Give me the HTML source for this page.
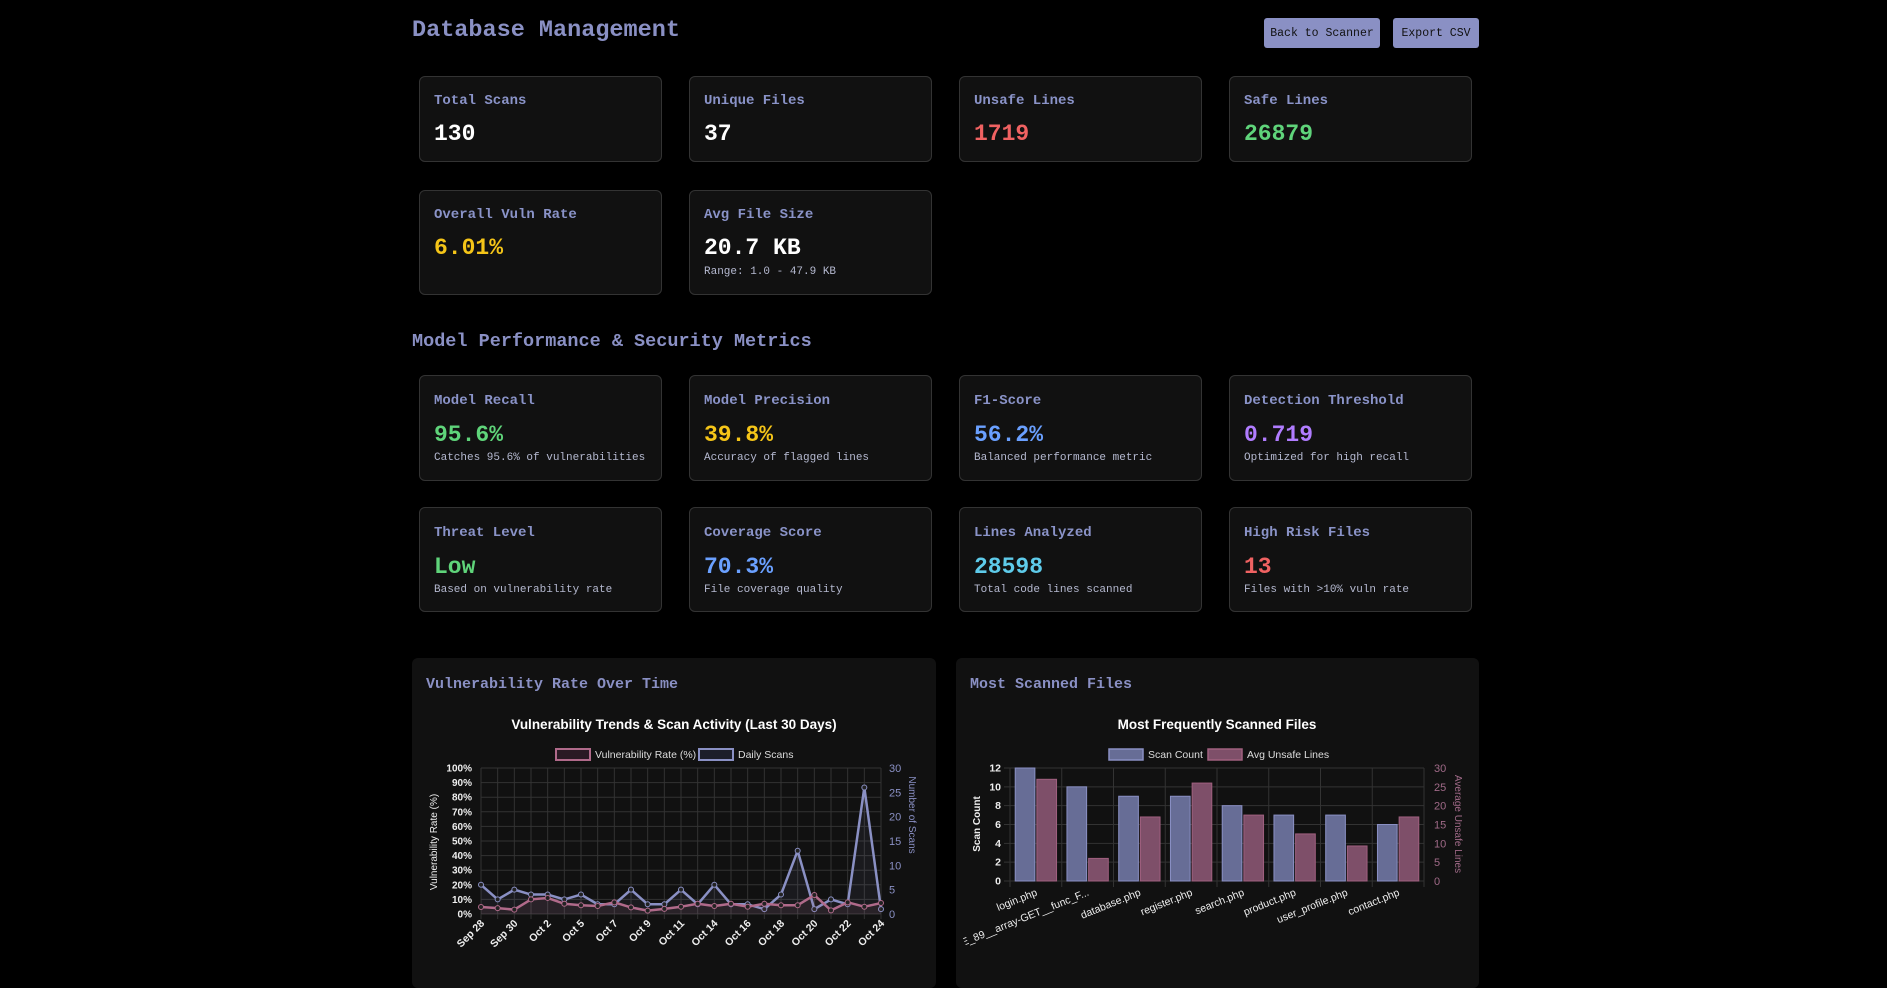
<!DOCTYPE html>
<html><head><meta charset="utf-8">
<style>
*{box-sizing:border-box;margin:0;padding:0}
body{width:1887px;height:970px;background:#000;overflow:hidden;font-family:"Liberation Mono","DejaVu Sans Mono",monospace;position:relative}
.abs{position:absolute}
h1{position:absolute;left:412px;top:17px;font-size:23.5px;font-weight:bold;color:#8a90c4}
.btn{position:absolute;top:18px;height:30px;background:#8a90c4;color:#111;font-size:11.5px;border-radius:3px;display:flex;align-items:center;justify-content:center}
.card{position:absolute;width:243px;background:#111;border:1px solid #333;border-radius:6px;padding:0 14px}
.lbl{position:absolute;left:14px;font-size:14px;font-weight:bold;color:#8a93c8}
.val{position:absolute;left:14px;font-size:23px;font-weight:bold;color:#fff}
.sub{position:absolute;left:14px;font-size:11px;color:#b5b9d0}
h2{position:absolute;left:412px;top:331px;font-size:18.5px;font-weight:bold;color:#8a90c4}
.panel{position:absolute;top:658px;height:330px;background:#111;border-radius:6px}
.ptitle{position:absolute;left:14px;top:18px;font-size:15px;font-weight:bold;color:#8a90c4}
svg text{font-family:"Liberation Sans",sans-serif}
</style></head><body>
<h1>Database Management</h1>
<div class="btn" style="left:1264px;width:116px">Back to Scanner</div>
<div class="btn" style="left:1393px;width:86px">Export CSV</div>

<div class="card" style="left:419px;top:76px;height:86px"><div class="lbl" style="top:16px">Total Scans</div><div class="val" style="top:44px">130</div></div>
<div class="card" style="left:689px;top:76px;height:86px"><div class="lbl" style="top:16px">Unique Files</div><div class="val" style="top:44px">37</div></div>
<div class="card" style="left:959px;top:76px;height:86px"><div class="lbl" style="top:16px">Unsafe Lines</div><div class="val" style="top:44px;color:#f06262">1719</div></div>
<div class="card" style="left:1229px;top:76px;height:86px"><div class="lbl" style="top:16px">Safe Lines</div><div class="val" style="top:44px;color:#5fd47a">26879</div></div>

<div class="card" style="left:419px;top:190px;height:105px"><div class="lbl" style="top:16px">Overall Vuln Rate</div><div class="val" style="top:44px;color:#f5c518">6.01%</div></div>
<div class="card" style="left:689px;top:190px;height:105px"><div class="lbl" style="top:16px">Avg File Size</div><div class="val" style="top:44px">20.7 KB</div><div class="sub" style="top:75px">Range: 1.0 - 47.9 KB</div></div>

<h2>Model Performance &amp; Security Metrics</h2>

<div class="card" style="left:419px;top:375px;height:106px"><div class="lbl" style="top:17px">Model Recall</div><div class="val" style="top:46px;color:#5fd47a">95.6%</div><div class="sub" style="top:76px">Catches 95.6% of vulnerabilities</div></div>
<div class="card" style="left:689px;top:375px;height:106px"><div class="lbl" style="top:17px">Model Precision</div><div class="val" style="top:46px;color:#f5c518">39.8%</div><div class="sub" style="top:76px">Accuracy of flagged lines</div></div>
<div class="card" style="left:959px;top:375px;height:106px"><div class="lbl" style="top:17px">F1-Score</div><div class="val" style="top:46px;color:#6aa0ff">56.2%</div><div class="sub" style="top:76px">Balanced performance metric</div></div>
<div class="card" style="left:1229px;top:375px;height:106px"><div class="lbl" style="top:17px">Detection Threshold</div><div class="val" style="top:46px;color:#b07cff">0.719</div><div class="sub" style="top:76px">Optimized for high recall</div></div>

<div class="card" style="left:419px;top:507px;height:105px"><div class="lbl" style="top:17px">Threat Level</div><div class="val" style="top:46px;color:#5fd47a">Low</div><div class="sub" style="top:76px">Based on vulnerability rate</div></div>
<div class="card" style="left:689px;top:507px;height:105px"><div class="lbl" style="top:17px">Coverage Score</div><div class="val" style="top:46px;color:#6aa0ff">70.3%</div><div class="sub" style="top:76px">File coverage quality</div></div>
<div class="card" style="left:959px;top:507px;height:105px"><div class="lbl" style="top:17px">Lines Analyzed</div><div class="val" style="top:46px;color:#5ecbea">28598</div><div class="sub" style="top:76px">Total code lines scanned</div></div>
<div class="card" style="left:1229px;top:507px;height:105px"><div class="lbl" style="top:17px">High Risk Files</div><div class="val" style="top:46px;color:#f06262">13</div><div class="sub" style="top:76px">Files with &gt;10% vuln rate</div></div>

<div class="panel" style="left:412px;width:524px"><div class="ptitle">Vulnerability Rate Over Time</div></div>
<div class="panel" style="left:956px;width:523px"><div class="ptitle">Most Scanned Files</div></div>

<svg id="c1" class="abs" style="left:0;top:0" width="1887" height="970"></svg>

<script>
// Chart 1 data
const dates=["Sep 28","Sep 29","Sep 30","Oct 1","Oct 2","Oct 3","Oct 5","Oct 6","Oct 7","Oct 8","Oct 9","Oct 10","Oct 11","Oct 13","Oct 14","Oct 15","Oct 16","Oct 17","Oct 18","Oct 19","Oct 20","Oct 21","Oct 22","Oct 23","Oct 24"];
const vulnRate=[4.8,4,3,10,11,7,6,5.5,8,4.5,2.3,3.5,5,7,5.5,7,5,7,6,6,13,2.5,8,5,7.5];
const dailyScans=[6,3,5,4,4,3,4,2,2,5,2,2,5,2,6,2,2,1,4,13,1,3,2,26,1];
const leftTicks=[0,10,20,30,40,50,60,70,80,90,100];
const rightTicks=[0,5,10,15,20,25,30];
// Chart 2 data
const files=["login.php","E_89__array-GET__func_F...","database.php","register.php","search.php","product.php","user_profile.php","contact.php"];
const scanCount=[12,10,9,9,8,7,7,6];
const avgUnsafe=[27,6,17,26,17.5,12.5,9.3,17];
const countTicks=[0,2,4,6,8,10,12];
const unsafeTicks=[0,5,10,15,20,25,30];

const NS="http://www.w3.org/2000/svg";
const svg=document.getElementById('c1');
function mk(tag,attrs,parent,txt){const e=document.createElementNS(NS,tag);for(const k in attrs)e.setAttribute(k,attrs[k]);if(txt!==undefined)e.textContent=txt;(parent||svg).appendChild(e);return e;}

// ---------- Chart 1 ----------
const g1=mk('g',{});


const L1=481,R1=881,T1=768,B1=914;
const x1=i=>L1+(R1-L1)*i/(dates.length-1);
const yl=v=>B1-(B1-T1)*v/100;
const yr=v=>B1-(B1-T1)*v/30;
mk('text',{x:674,y:729,'text-anchor':'middle','font-size':13.5,'font-weight':'bold',fill:'#fff'},g1,'Vulnerability Trends & Scan Activity (Last 30 Days)');
mk('rect',{x:556,y:749,width:34,height:11,fill:'#2a1a24',stroke:'#b06a8a','stroke-width':2},g1);
mk('text',{x:595,y:758,'font-size':10.5,fill:'#ddd'},g1,'Vulnerability Rate (%)');
mk('rect',{x:699,y:749,width:34,height:11,fill:'#1c1e2a',stroke:'#8a90c4','stroke-width':2},g1);
mk('text',{x:738,y:758,'font-size':10.5,fill:'#ddd'},g1,'Daily Scans');
leftTicks.forEach(t=>{const y=yl(t);mk('line',{x1:L1,x2:R1,y1:y,y2:y,stroke:'#333'},g1);
 const e=mk('text',{x:472,y:y+3.5,'text-anchor':'end','font-size':10,'font-weight':'bold',fill:'#eee'},g1,t+'%');
 });
rightTicks.forEach(t=>{mk('text',{x:889,y:yr(t)+4,'font-size':11,fill:'#8a90c4'},g1,t);});
dates.forEach((d,i)=>{const x=x1(i);mk('line',{x1:x,x2:x,y1:T1,y2:B1+5,stroke:'#333'},g1);
 if(i%2===0){const t=mk('text',{x:x+4,y:B1+10,'text-anchor':'end','font-size':10.5,'font-weight':'bold',fill:'#eee',transform:`rotate(-45 ${x+4} ${B1+10})`},g1,d);}});
let t=mk('text',{x:0,y:0,'text-anchor':'middle','font-size':10,fill:'#eee',transform:`translate(437,842) rotate(-90)`},g1,'Vulnerability Rate (%)');

t=mk('text',{x:0,y:0,'text-anchor':'middle','font-size':10,fill:'#8a90c4',transform:`translate(909,815) rotate(90)`},g1,'Number of Scans');

function series(vals,yf,col,fillc,name){
 const pts=vals.map((v,i)=>[x1(i),yf(v)]);
 mk('path',{d:'M'+pts.map(p=>p.join(',')).join('L')+`L${x1(vals.length-1)},${B1}L${L1},${B1}Z`,fill:fillc},g1);
 const p=mk('path',{d:'M'+pts.map(p=>p.join(',')).join('L'),fill:'none',stroke:col,'stroke-width':2.5,'stroke-linejoin':'round'},g1);
 
 pts.forEach(q=>{const c=mk('circle',{cx:q[0],cy:q[1],r:2.5,fill:'#222',stroke:col,'stroke-width':1},g1);});
}
series(dailyScans,yr,'#8a90c4','rgba(138,144,196,0.08)','daily-scans-line');
series(vulnRate,yl,'#b06a8a','rgba(176,106,138,0.1)','vuln-rate-line');

// ---------- Chart 2 ----------
const g2=mk('g',{});


const L2=1010,R2=1424,T2=768,B2=881;
const cw=(R2-L2)/files.length;
const yc=v=>B2-(B2-T2)*v/12;
const yu=v=>B2-(B2-T2)*v/30;
mk('text',{x:1217,y:729,'text-anchor':'middle','font-size':13.5,'font-weight':'bold',fill:'#fff'},g2,'Most Frequently Scanned Files');
mk('rect',{x:1109,y:749,width:34,height:11,fill:'#676d96',stroke:'#8a90c4','stroke-width':1.5},g2);
mk('text',{x:1148,y:758,'font-size':10.5,fill:'#ddd'},g2,'Scan Count');
mk('rect',{x:1208,y:749,width:34,height:11,fill:'#7e4f69',stroke:'#a0607f','stroke-width':1.5},g2);
mk('text',{x:1247,y:758,'font-size':10.5,fill:'#ddd'},g2,'Avg Unsafe Lines');
countTicks.forEach(v=>{const y=yc(v);mk('line',{x1:L2-6,x2:R2,y1:y,y2:y,stroke:'#333'},g2);
 mk('text',{x:1001,y:y+3.5,'text-anchor':'end','font-size':10.5,'font-weight':'bold',fill:'#eee'},g2,v);});
unsafeTicks.forEach(v=>{mk('text',{x:1434,y:yu(v)+4,'font-size':11,fill:'#a06a88'},g2,v);});
for(let i=0;i<=files.length;i++){const x=L2+cw*i;mk('line',{x1:x,x2:x,y1:T2,y2:B2+6,stroke:'#333'},g2);}
const clip=mk('clipPath',{id:'cl2'},g2);mk('rect',{x:956,y:660,width:523,height:310},clip);
files.forEach((f,i)=>{const cx=L2+cw*(i+0.5);const bw=cw*0.38;
 const b1=mk('rect',{x:cx-cw*0.38-1,y:yc(scanCount[i]),width:bw,height:B2-yc(scanCount[i]),fill:'#676d96',stroke:'#8a90c4','stroke-width':1},g2);
 
 const b2=mk('rect',{x:cx+1,y:yu(avgUnsafe[i]),width:bw,height:B2-yu(avgUnsafe[i]),fill:'#7e4f69',stroke:'#a0607f','stroke-width':1},g2);
 
 const t=mk('text',{x:cx+2,y:B2+14,'text-anchor':'end','font-size':10.5,fill:'#eee','clip-path':'url(#cl2)',transform:`rotate(-22 ${cx+2} ${B2+14})`},g2,f);
 });
t=mk('text',{x:0,y:0,'text-anchor':'middle','font-size':10,'font-weight':'bold',fill:'#eee',transform:`translate(980,824) rotate(-90)`},g2,'Scan Count');

t=mk('text',{x:0,y:0,'text-anchor':'middle','font-size':10,fill:'#a06a88',transform:`translate(1455,824) rotate(90)`},g2,'Average Unsafe Lines');

</script>
</body></html>
